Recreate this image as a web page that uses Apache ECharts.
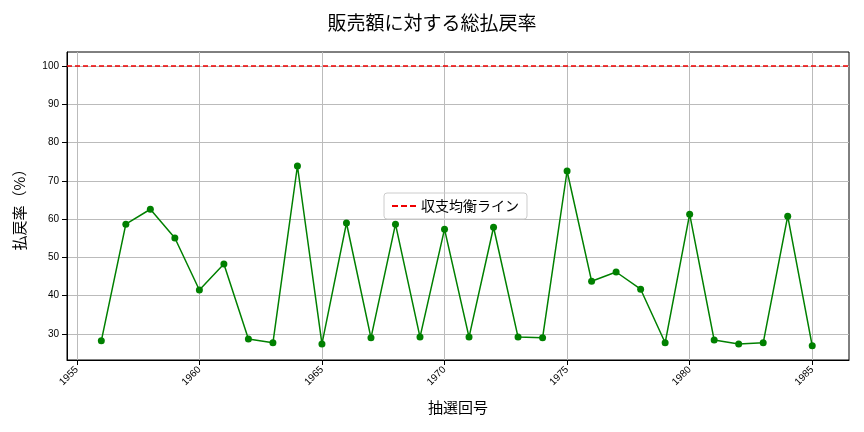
<!DOCTYPE html><html><head><meta charset="utf-8"><script src="https://cdn.jsdelivr.net/npm/echarts@6/dist/echarts.min.js"></script></head><body style="margin:0"><div id="c" style="width:864px;height:432px"></div><script>
const years=[1956,1957,1958,1959,1960,1961,1962,1963,1964,1965,1966,1967,1968,1969,1970,1971,1972,1973,1974,1975,1976,1977,1978,1979,1980,1981,1982,1983,1984,1985];
const rates=[28.2,58.7,62.6,55.1,41.5,48.3,28.7,27.7,73.9,27.4,59,29,58.7,29.2,57.4,29.2,57.9,29.2,29,72.6,43.8,46.2,41.7,27.7,61.3,28.4,27.4,27.7,60.8,26.9];
const xTicks=[1955,1960,1965,1970,1975,1980,1985];
const yTicks=[30,40,50,60,70,80,90,100];
const f='"Noto Sans CJK JP",sans-serif';
const ch=echarts.init(document.getElementById('c'));
ch.setOption({animation:false,
title:{text:'販売額に対する総払戻率',left:'center',top:8,textStyle:{fontFamily:f,fontSize:19,fontWeight:'normal',color:'#000'}},
legend:{data:[{name:'収支均衡ライン',icon:'path://M0,0h6v2h-6zM9,0h6v2h-6zM18,0h6v2h-6z'}],left:384,top:193,itemWidth:24,itemHeight:3,borderColor:'#ccc',borderWidth:1,borderRadius:3,padding:[6,8],textStyle:{fontFamily:f,fontSize:14,color:'#000'}},
grid:{left:67,right:15,top:52,bottom:72,show:true,borderColor:'#000',borderWidth:1},
xAxis:{type:'value',min:1954.6,max:1986.5,name:'抽選回号',nameLocation:'middle',nameGap:40,nameTextStyle:{fontFamily:f,fontSize:15,color:'#000'},
axisLine:{onZero:false,lineStyle:{color:'#000'}},axisTick:{customValues:xTicks,lineStyle:{color:'#000'}},axisLabel:{customValues:xTicks,rotate:45,fontSize:10,color:'#000',formatter:v=>String(v)},splitLine:{show:true,lineStyle:{color:'#bbb'}}},
yAxis:{type:'value',min:23.2,max:103.7,name:'払戻率（%）',nameLocation:'middle',nameGap:40,nameTextStyle:{fontFamily:f,fontSize:15,color:'#000'},
axisLine:{show:true,lineStyle:{color:'#000'}},axisTick:{show:true,customValues:yTicks,lineStyle:{color:'#000'}},axisLabel:{customValues:yTicks,fontSize:10,color:'#000'},splitLine:{show:true,lineStyle:{color:'#bbb'}}},
series:[{type:'line',data:years.map((y,i)=>[y,rates[i]]),color:'green',symbol:'circle',symbolSize:7,lineStyle:{width:1.5}},
{name:'収支均衡ライン',type:'line',data:[],color:'#e00',markLine:{silent:true,symbol:'none',label:{show:false},lineStyle:{color:'#e00',type:[5,3],width:1.5},data:[{yAxis:100}]}}]});
</script></body></html>
